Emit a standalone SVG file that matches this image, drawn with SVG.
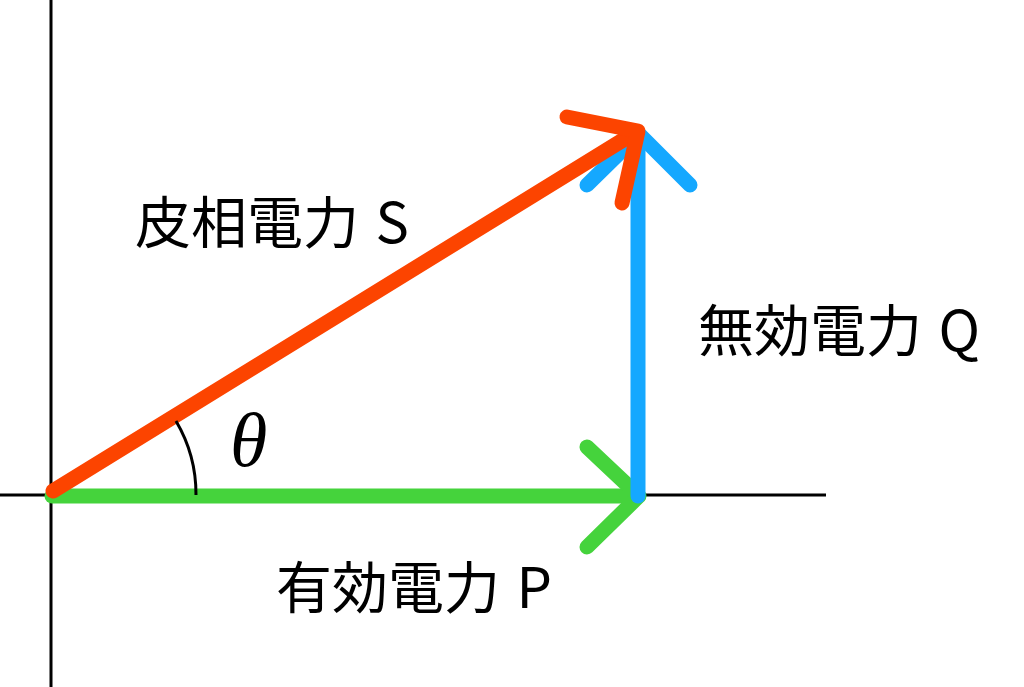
<svg xmlns="http://www.w3.org/2000/svg" width="1024" height="687" viewBox="0 0 1024 687">
<style>
.axis{stroke:#000;stroke-width:3;fill:none}
.vec{fill:none;stroke-width:15;stroke-linecap:round;stroke-linejoin:round}
.lbl{font-family:"Noto Sans CJK JP","Noto Sans",sans-serif;font-size:56px;fill:#000;word-spacing:4px}
</style>
<rect width="1024" height="687" fill="#fff"/>
<g id="axes">
<line class="axis" x1="51" y1="0" x2="51" y2="687"/>
<line class="axis" x1="0" y1="495" x2="826" y2="495"/>
</g>
<g id="connectors">
<g id="P">
<line class="vec" x1="52" y1="496" x2="638" y2="496" stroke="#45D33C" stroke-linecap="butt"/>
<polyline class="vec" points="587,447 639,496 587,547" stroke="#45D33C"/>
</g>
<g id="Q">
<line class="vec" x1="638" y1="496" x2="638" y2="136" stroke="#15A8FF" stroke-linecap="butt"/>
<polyline class="vec" points="587,185 639,134 690,185" stroke="#15A8FF"/>
</g>
<g id="S">
<line class="vec" x1="53" y1="491" x2="636" y2="132" stroke="#FC4400" stroke-linecap="butt"/>
<polyline class="vec" points="567,117 638,131 622,203" stroke="#FC4400"/>
</g>
<path id="angle" class="axis" d="M 176 421 A 144 144 0 0 1 196 495"/>
</g>
<g id="label-S"><text class="lbl" x="135" y="243">皮相電力 S</text></g>
<g id="label-Q"><text class="lbl" x="698" y="351">無効電力 Q</text></g>
<g id="label-P"><text class="lbl" x="276" y="608">有効電力 P</text></g>
<g id="label-theta"><text x="230" y="466" font-family="Liberation Serif,serif" font-style="italic" font-size="76">θ</text></g>
</svg>
